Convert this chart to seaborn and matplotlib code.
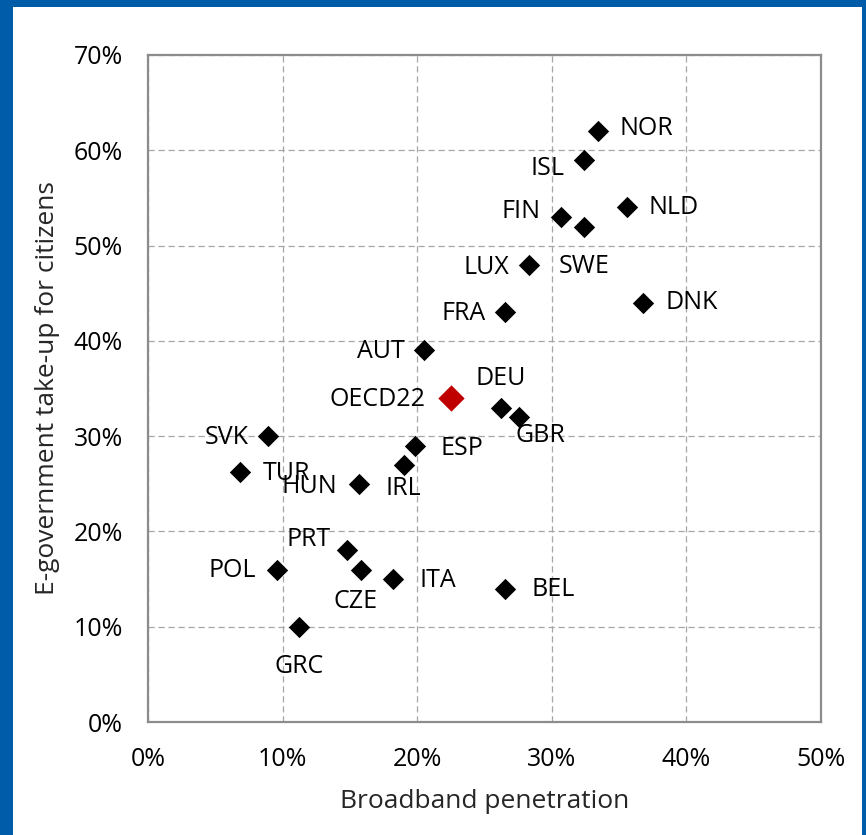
import numpy as np
import pandas as pd
import seaborn as sns
import matplotlib.pyplot as plt
from matplotlib.patches import Rectangle
from matplotlib.ticker import PercentFormatter

# values (percent)
countries = ['NOR', 'ISL', 'FIN', 'SWE', 'NLD', 'LUX', 'DNK', 'FRA', 'AUT', 'OECD22',
             'DEU', 'GBR', 'ESP', 'IRL', 'SVK', 'TUR', 'HUN', 'PRT', 'POL', 'CZE',
             'ITA', 'BEL', 'GRC']
broadband = [33.4, 32.4, 30.7, 32.4, 35.6, 28.3, 36.8, 26.5, 20.5, 22.5,
             26.2, 27.6, 19.8, 19.0, 8.9, 6.8, 15.7, 14.8, 9.6, 15.8,
             18.2, 26.5, 11.2]
egov = [62, 59, 53, 52, 54, 48, 44, 43, 39, 34,
        33, 32, 29, 27, 30, 26.2, 25, 18, 16, 16,
        15, 14, 10]

df = pd.DataFrame({'country': countries, 'broadband': broadband, 'egov': egov})
df['group'] = np.where(df['country'] == 'OECD22', 'avg', 'country')

# label placement: (dx, dy) in points, horizontal alignment
placement = {
    'NOR': (16, 2, 'left'), 'ISL': (-14, -6, 'right'), 'FIN': (-15, 4, 'right'),
    'SWE': (0, -29, 'center'), 'NLD': (15, 0, 'left'), 'LUX': (-14, -2, 'right'),
    'DNK': (16, 0, 'left'), 'FRA': (-14, -1, 'right'), 'AUT': (-14, -1, 'right'),
    'OECD22': (-18, -1, 'right'), 'DEU': (0, 21, 'center'), 'GBR': (15, -13, 'center'),
    'ESP': (19, -2, 'left'), 'IRL': (0, -17, 'center'), 'SVK': (-14, -1, 'right'),
    'TUR': (17, -1, 'left'), 'HUN': (-16, -2, 'right'), 'PRT': (-12, 8, 'right'),
    'POL': (-15, -1, 'right'), 'CZE': (-4, -23, 'center'), 'ITA': (19, -1, 'left'),
    'BEL': (19, -1, 'left'), 'GRC': (0, -29, 'center'),
}

sns.set_style('white')
plt.rcParams['font.family'] = ['Open Sans', 'DejaVu Sans']

fig = plt.figure(figsize=(8.66, 8.35), dpi=100)
fig.patch.set_facecolor('#005BA8')
# white panel inside the blue frame
fig.patches.append(Rectangle((13 / 866, 0), (862 - 13) / 866, (835 - 7) / 835,
                             transform=fig.transFigure, facecolor='white',
                             edgecolor='none', zorder=-10))

ax = fig.add_axes([148 / 866, 113 / 835, 673 / 866, 667 / 835])

sns.scatterplot(data=df[df['group'] == 'country'], x='broadband', y='egov',
                marker='D', s=118, color='black', linewidth=0, ax=ax, zorder=3)
sns.scatterplot(data=df[df['group'] == 'avg'], x='broadband', y='egov',
                marker='D', s=180, color='#C00000', linewidth=0, ax=ax, zorder=3)

for _, row in df.iterrows():
    dx, dy, ha = placement[row['country']]
    ax.annotate(row['country'], (row['broadband'], row['egov']), xytext=(dx, dy),
                textcoords='offset points', ha=ha, va='center', fontsize=18,
                color='black', zorder=4)

ax.set_xlim(0, 50)
ax.set_ylim(0, 70)
ax.set_xticks(range(0, 51, 10))
ax.set_yticks(range(0, 71, 10))
ax.xaxis.set_major_formatter(PercentFormatter(decimals=0))
ax.yaxis.set_major_formatter(PercentFormatter(decimals=0))
ax.tick_params(axis='both', length=0, labelsize=18, colors='black')
ax.tick_params(axis='x', pad=18)
ax.tick_params(axis='y', pad=18)

ax.grid(True, color='#A6A6A6', linestyle=(0, (5, 3)), linewidth=0.9)
ax.set_axisbelow(True)
for sp in ax.spines.values():
    sp.set_color('#8C8C8C')
    sp.set_linewidth(1.6)

ax.set_xlabel('Broadband penetration', fontsize=19, labelpad=12)
ax.set_ylabel('E-government take-up for citizens', fontsize=19, labelpad=10)

fig.savefig('out.png', dpi=100, facecolor=fig.get_facecolor())
